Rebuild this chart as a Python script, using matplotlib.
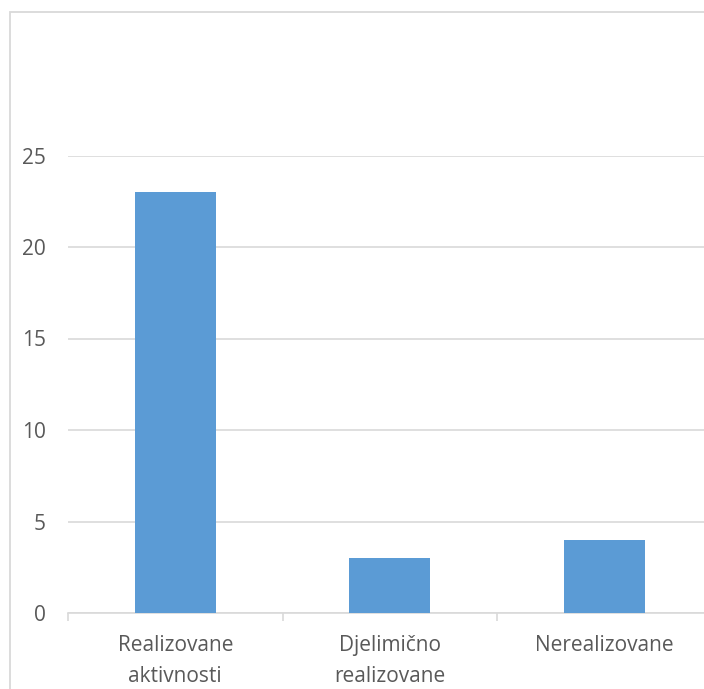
import matplotlib
matplotlib.use("Agg")
import matplotlib.pyplot as plt
from matplotlib.patches import Rectangle

# data
categories = ["Realizovane\naktivnosti", "Djelimično\nrealizovane", "Nerealizovane"]
values = [23, 3, 4]
yticks = [0, 5, 10, 15, 20, 25]

plt.rcParams['font.family'] = ['Open Sans', 'DejaVu Sans']

fig = plt.figure(figsize=(7.04, 6.89), dpi=100)

# chart border (cut off on right and bottom like the reference)
fig.patches.append(Rectangle((9.5 / 704, -0.05), 1.2, 1 - 11.5 / 689 + 0.05,
                             transform=fig.transFigure, fill=False,
                             edgecolor='#D9D9D9', linewidth=1.3))

ax = fig.add_axes([68 / 704, 76 / 689, 643.5 / 704, 457.5 / 689])
x = range(len(categories))
ax.bar(x, values, width=0.378, color='#5B9BD5', zorder=3)

ax.set_xlim(-0.5, len(categories) - 0.5)
ax.set_ylim(0, 25)
ax.set_yticks(yticks)
ax.yaxis.grid(True, color='#D9D9D9', linewidth=1.2)
ax.set_axisbelow(True)

for s in ['top', 'right', 'left']:
    ax.spines[s].set_visible(False)
ax.spines['bottom'].set_color('#D9D9D9')
ax.spines['bottom'].set_linewidth(1.2)

ax.tick_params(axis='y', length=0, pad=16, labelsize=15, labelcolor='#595959')

# category labels between boundary ticks
ax.set_xticks([i - 0.5 for i in range(len(categories) + 1)])
ax.set_xticklabels([])
ax.tick_params(axis='x', which='major', length=6, color='#D9D9D9', width=1.2)
ax.set_xticks(list(x), minor=True)
ax.set_xticklabels(categories, minor=True, fontsize=15, color='#595959',
                   linespacing=1.6, va='top')
ax.tick_params(axis='x', which='minor', length=0, pad=16)

fig.savefig("out.png", dpi=100)
